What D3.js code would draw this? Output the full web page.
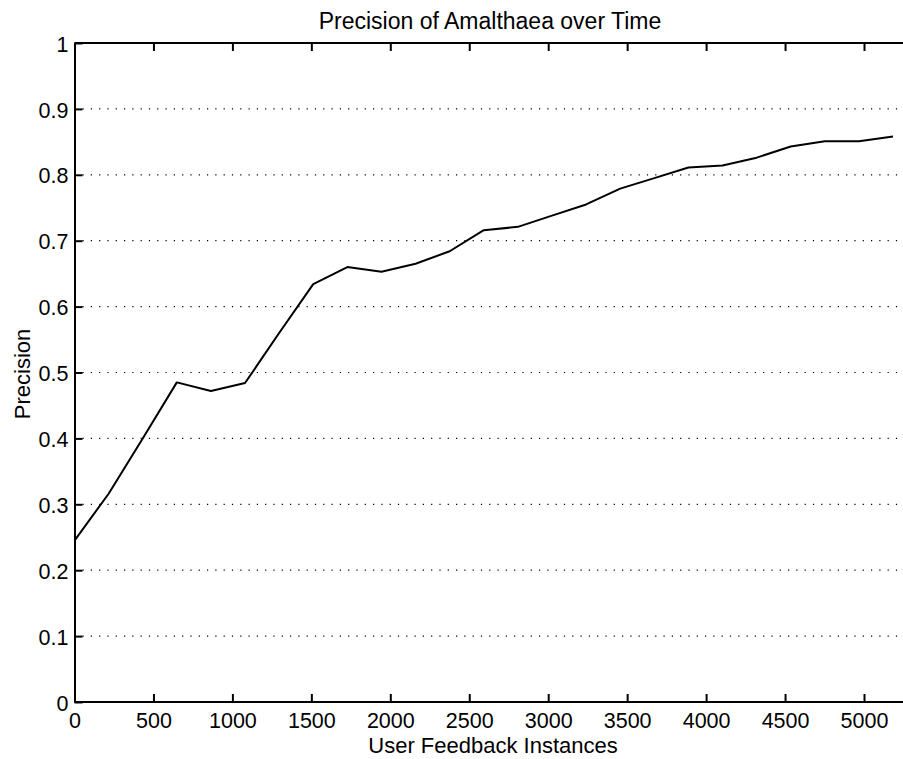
<!DOCTYPE html>
<html>
<head>
<meta charset="utf-8">
<script src="https://cdn.jsdelivr.net/npm/d3@7"></script>
<style>
  body { margin: 0; background: #fff; }
  svg text { font-family: "Liberation Sans", Arial, Helvetica, sans-serif; fill: #000; }
</style>
</head>
<body>
<svg id="chart" width="903" height="759"></svg>
<script>
// values
var feedback = [0, 216, 432, 648, 864, 1080, 1296, 1512, 1728, 1944, 2160, 2376, 2592,
                2808, 3024, 3240, 3456, 3672, 3888, 4104, 4320, 4536, 4752, 4968, 5184];
var precision = [0.245, 0.316, 0.400, 0.485, 0.472, 0.484, 0.560, 0.634, 0.660, 0.653,
                 0.665, 0.684, 0.716, 0.721, 0.738, 0.755, 0.779, 0.795, 0.811, 0.814,
                 0.826, 0.843, 0.851, 0.851, 0.858];
var xTicks = [0, 500, 1000, 1500, 2000, 2500, 3000, 3500, 4000, 4500, 5000];
var yTicks = [0, 0.1, 0.2, 0.3, 0.4, 0.5, 0.6, 0.7, 0.8, 0.9, 1];

(function() {
    var data = feedback.map(function(f, i) { return {x: f, y: precision[i]}; });

    var svg = d3.select("#chart");
    var plotLeft = 74.5, plotTop = 43, plotBottom = 702;

    var x = d3.scaleLinear().domain([0, 5000]).range([plotLeft, 864]);
    var xMax = 5280; // axis runs off the right edge of the figure
    var plotRight = x(xMax);
    var y = d3.scaleLinear().domain([0, 1]).range([plotBottom, plotTop]);

    svg.append("rect").attr("width", 903).attr("height", 759).attr("fill", "#fff");

    // dotted horizontal grid
    svg.append("g")
        .selectAll("line")
        .data(yTicks.filter(function(d) { return d > 0 && d < 1; }))
        .enter().append("line")
        .attr("x1", plotLeft + 8)
        .attr("x2", plotRight)
        .attr("y1", d => y(d))
        .attr("y2", d => y(d))
        .attr("stroke", "#000")
        .attr("stroke-width", 1.2)
        .attr("stroke-dasharray", "1.2,7.1");

    // axes, ticks pointing inward like matlab
    var xAxis = svg.append("g")
        .attr("transform", `translate(0,${plotBottom})`)
        .call(d3.axisBottom(x).tickValues(xTicks).tickSizeInner(-8).tickSizeOuter(0)
            .tickFormat(d3.format("d")));
    xAxis.select(".domain").attr("d", `M${plotLeft},0H${plotRight}`);

    var xTop = svg.append("g")
        .attr("transform", `translate(0,${plotTop})`)
        .call(d3.axisTop(x).tickValues(xTicks).tickSizeInner(-8).tickSizeOuter(0).tickFormat(""));
    xTop.select(".domain").attr("d", `M${plotLeft},0H${plotRight}`);

    var yAxis = svg.append("g")
        .attr("transform", `translate(${plotLeft},0)`)
        .call(d3.axisLeft(y).tickValues(yTicks).tickSizeInner(-8).tickSizeOuter(0)
            .tickFormat(d3.format("~g")));

    svg.selectAll(".domain").attr("stroke", "#000").attr("stroke-width", 2);
    svg.selectAll(".tick line").attr("stroke", "#000").attr("stroke-width", 2);

    xAxis.selectAll("text")
        .attr("y", 26)
        .attr("dy", 0)
        .style("font-size", "21.5px");

    yAxis.selectAll("text")
        .attr("x", -6)
        .attr("dy", "0.38em")
        .style("font-size", "21.5px");

    // the curve
    var line = d3.line()
        .x(d => x(d.x))
        .y(d => y(d.y));

    svg.append("path")
        .datum(data)
        .attr("fill", "none")
        .attr("stroke", "#000")
        .attr("stroke-width", 2)
        .attr("stroke-linejoin", "round")
        .attr("d", line);

    // labels
    svg.append("text")
        .attr("x", 490)
        .attr("y", 29)
        .attr("text-anchor", "middle")
        .style("font-size", "23px")
        .text("Precision of Amalthaea over Time");

    svg.append("text")
        .attr("x", 493)
        .attr("y", 753)
        .attr("text-anchor", "middle")
        .style("font-size", "22px")
        .text("User Feedback Instances");

    svg.append("text")
        .attr("transform", "translate(30,374) rotate(-90)")
        .attr("text-anchor", "middle")
        .style("font-size", "22px")
        .text("Precision");
})();
</script>
</body>
</html>
